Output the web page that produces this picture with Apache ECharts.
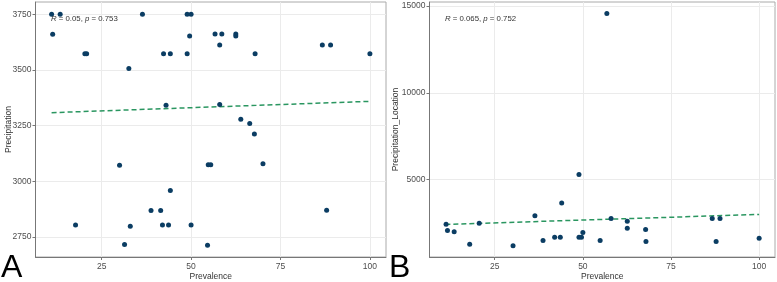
<!DOCTYPE html>
<html>
<head>
<meta charset="utf-8">
<script src="https://cdn.jsdelivr.net/npm/echarts@6/dist/echarts.min.js"></script>
<style>html,body{margin:0;padding:0;background:#fff}#c{width:777px;height:282px}</style>
</head>
<body>
<div id="c"></div>
<script>
// Panel A: Prevalence vs Precipitation
const prevA = [11.0,13.4,11.3,20.3,20.8,32.6,36.4,42.3,44.2,43.0,48.9,48.9,50.0,49.6,56.7,58.6,58.0,62.5,62.5,67.9,86.7,89.0,100,58.0,63.9,66.4,67.7,30.0,44.2,38.8,41.5,17.7,33.0,42.0,43.7,50.0,31.4,54.8,55.5,70.1,87.9,54.6];
const precipA = [3750,3750,3660,3573,3573,3506,3750,3573,3573,3341,3573,3750,3750,3652,3661,3661,3612,3661,3652,3573,3612,3612,3573,3345,3279,3259,3212,3072,2959,2869,2869,2804,2798,2804,2804,2804,2716,3074,3074,3079,2870,2713];
const fitA_x = [11, 100];
const fitA_y = [3308, 3359];
const statA = 'R = 0.05, p = 0.753';

// Panel B: Prevalence vs Precipitation_Location
const prevB = [11.2,11.6,13.5,17.9,20.6,30.2,36.4,38.7,42.0,43.6,44.0,48.9,48.9,49.6,50.0,54.9,58.0,62.6,62.6,67.8,67.9,86.7,88.9,87.8,100,56.8];
const precipB = [2442,2080,2005,1290,2500,1198,2926,1503,1694,1694,3652,5305,1694,1694,1964,1503,2771,2615,2212,2137,1446,2771,2771,1446,1636,14562];
const fitB_x = [11, 100];
const fitB_y = [2425, 3001];
const statB = 'R = 0.065, p = 0.752';

const xTicks = [25, 50, 75, 100];
const yTicksA = [2750, 3000, 3250, 3500, 3750];
const yTicksB = [5000, 10000, 15000];

const zip = (a, b) => a.map((v, i) => [v, b[i]]);

const font = 'Liberation Sans, Arial, sans-serif';
const labelStyle = { color: '#4d4d4d', fontSize: 8.5, fontFamily: font, formatter: v => String(v) };
function xAxis(gi) {
  return {
    gridIndex: gi, type: 'value', min: 6.5, max: 104.5,
    name: 'Prevalence', nameLocation: 'middle', nameGap: 15, nameMoveOverlap: false,
    nameTextStyle: { color: '#333', fontSize: 8.5, fontFamily: font },
    axisLine: { show: true, lineStyle: { color: '#777', width: 1 } },
    axisTick: { show: true, length: 3, lineStyle: { color: '#777' }, customValues: xTicks },
    axisLabel: Object.assign({ margin: 5, customValues: xTicks }, labelStyle),
    splitLine: { show: true, lineStyle: { color: '#ebebeb', width: 1 } }
  };
}
function yAxis(gi, min, max, ticks, name, gap) {
  return {
    gridIndex: gi, type: 'value', min: min, max: max,
    name: name, nameLocation: 'middle', nameGap: gap, nameMoveOverlap: false,
    nameTextStyle: { color: '#333', fontSize: 8.5, fontFamily: font },
    axisLine: { show: true, lineStyle: { color: '#777', width: 1 } },
    axisTick: { show: true, length: 3, lineStyle: { color: '#777' }, customValues: ticks },
    axisLabel: Object.assign({ margin: 4, customValues: ticks }, labelStyle),
    splitLine: { show: true, lineStyle: { color: '#ebebeb', width: 1 } }
  };
}
function statText(s) {
  const parts = s.split(/(R|p)(?= =)/);
  return parts.map(p => (p === 'R' || p === 'p') ? '{i|' + p + '}' : '{n|' + p + '}').join('');
}
const rich = {
  i: { fontStyle: 'italic', fontSize: 7.8, fontFamily: font, fill: '#333', color: '#333' },
  n: { fontSize: 7.8, fontFamily: font, fill: '#333', color: '#333' }
};

const chart = echarts.init(document.getElementById('c'), null, { renderer: 'canvas' });
chart.setOption({
  animation: false,
  grid: [
    { left: 35.5, top: 2, width: 350.5, height: 255, show: true, borderColor: '#aaa', borderWidth: 1, backgroundColor: '#fff', outerBoundsMode: 'none', containLabel: false },
    { left: 429.5, top: 2, width: 345.5, height: 255, show: true, borderColor: '#aaa', borderWidth: 1, backgroundColor: '#fff', outerBoundsMode: 'none', containLabel: false }
  ],
  xAxis: [xAxis(0), xAxis(1)],
  yAxis: [
    yAxis(0, 2660, 3805, yTicksA, 'Precipitation', 22.5),
    yAxis(1, 550, 15230, yTicksB, 'Precipitation_Location', 29)
  ],
  series: [
    { type: 'line', xAxisIndex: 0, yAxisIndex: 0, data: zip(fitA_x, fitA_y), symbol: 'none',
      lineStyle: { color: '#2a9660', width: 1.5, type: [5, 3] }, z: 2 },
    { type: 'scatter', xAxisIndex: 0, yAxisIndex: 0, data: zip(prevA, precipA), symbolSize: 5,
      itemStyle: { color: '#0b3d63', opacity: 1 }, z: 3 },
    { type: 'line', xAxisIndex: 1, yAxisIndex: 1, data: zip(fitB_x, fitB_y), symbol: 'none',
      lineStyle: { color: '#2a9660', width: 1.5, type: [5, 3] }, z: 2 },
    { type: 'scatter', xAxisIndex: 1, yAxisIndex: 1, data: zip(prevB, precipB), symbolSize: 5,
      itemStyle: { color: '#0b3d63', opacity: 1 }, z: 3 }
  ],
  graphic: [
    { type: 'text', left: 51, top: 15, style: { text: statText(statA), rich: rich, fontSize: 7.8 }, z: 10 },
    { type: 'text', left: 445, top: 15, style: { text: statText(statB), rich: rich, fontSize: 7.8 }, z: 10 },
    { type: 'text', left: 1, top: 252, style: { text: 'A', fontSize: 32, fontFamily: font, fill: '#000' } },
    { type: 'text', left: 389, top: 252, style: { text: 'B', fontSize: 32, fontFamily: font, fill: '#000' } }
  ]
});
</script>
</body>
</html>
